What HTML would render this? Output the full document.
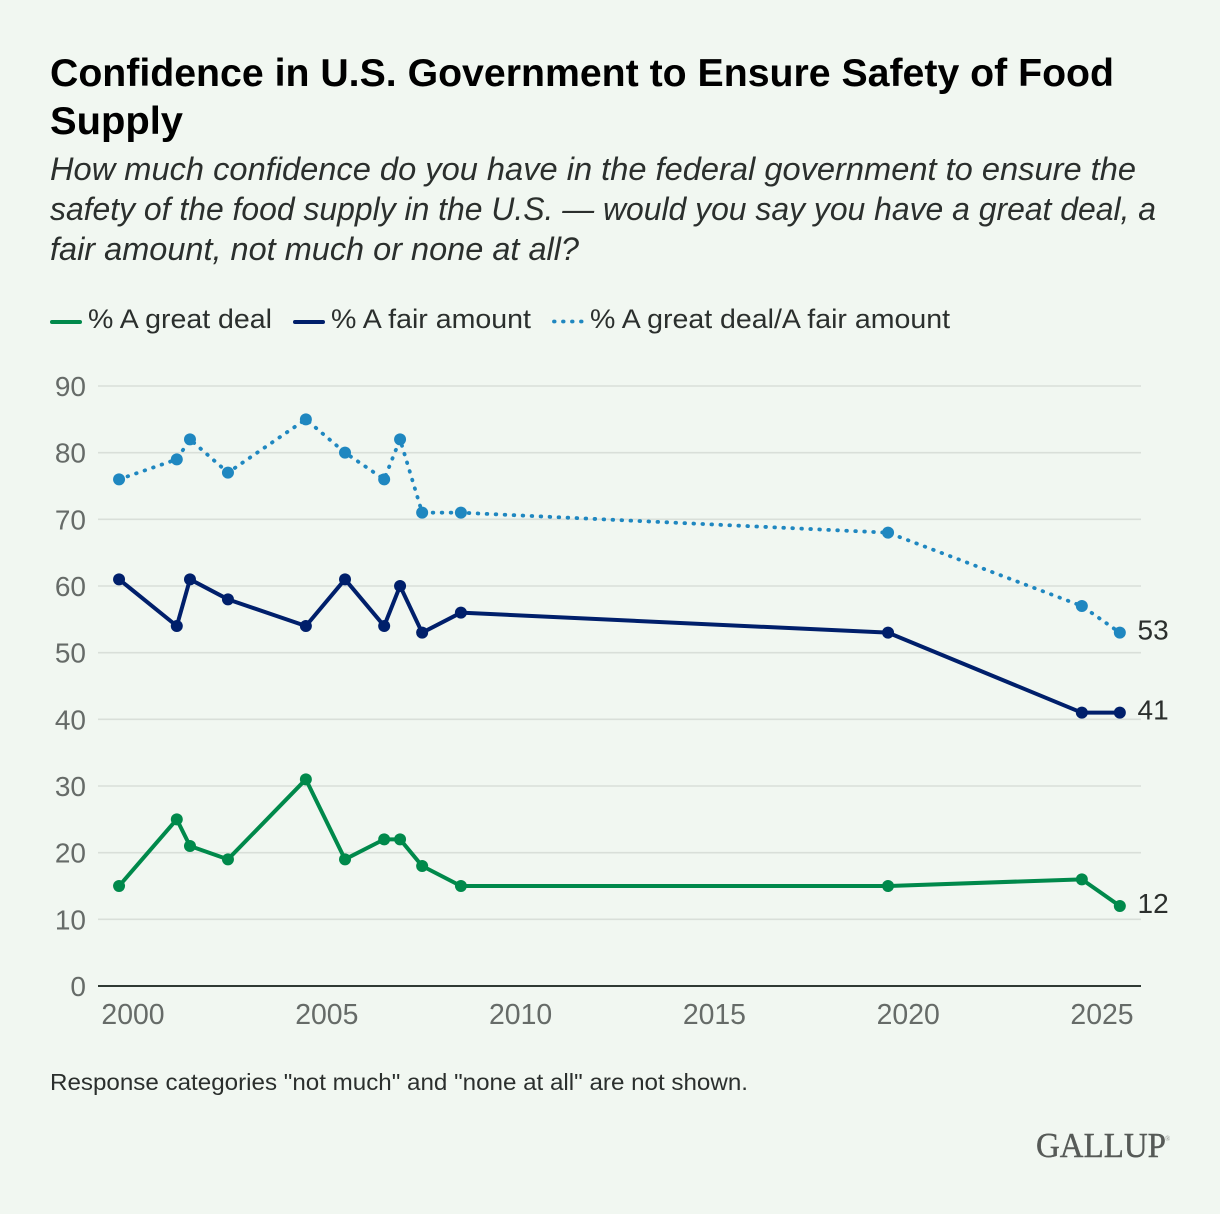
<!DOCTYPE html>
<html lang="en">
<head>
<meta charset="utf-8">
<title>Confidence in U.S. Government to Ensure Safety of Food Supply</title>
<style>
html,body{margin:0;padding:0;background:#f1f7f1;}
svg{display:block;font-family:"Liberation Sans",sans-serif;}
</style>
</head>
<body>
<svg id="chart" width="1220" height="1214" viewBox="0 0 1220 1214" xmlns="http://www.w3.org/2000/svg">
<rect width="1220" height="1214" fill="#f1f7f1"/>
<g font-size="39" font-weight="700" fill="#000">
<text x="50" y="86" textLength="1064" lengthAdjust="spacingAndGlyphs">Confidence in U.S. Government to Ensure Safety of Food</text>
<text x="50" y="134" textLength="133" lengthAdjust="spacingAndGlyphs">Supply</text>
</g>
<g font-size="32" font-style="italic" fill="#2b2f2d">
<text x="50" y="180" textLength="1086" lengthAdjust="spacingAndGlyphs">How much confidence do you have in the federal government to ensure the</text>
<text x="50" y="220" textLength="1106" lengthAdjust="spacingAndGlyphs">safety of the food supply in the U.S. — would you say you have a great deal, a</text>
<text x="50" y="260" textLength="529" lengthAdjust="spacingAndGlyphs">fair amount, not much or none at all?</text>
</g>
<g id="legend" font-size="27" fill="#2b2f2d">
<g>
<line x1="52" y1="322" x2="80" y2="322" stroke="#00894b" stroke-width="4" stroke-linecap="round"/>
<text x="88" y="328" textLength="184" lengthAdjust="spacingAndGlyphs">% A great deal</text>
</g>
<g>
<line x1="295" y1="322" x2="323" y2="322" stroke="#001f6b" stroke-width="4" stroke-linecap="round"/>
<text x="331" y="328" textLength="200" lengthAdjust="spacingAndGlyphs">% A fair amount</text>
</g>
<g>
<line x1="554" y1="321.5" x2="582" y2="321.5" stroke="#1f87c0" stroke-width="3.8" stroke-linecap="round" stroke-dasharray="0.6 8.4"/>
<text x="590" y="328" textLength="360" lengthAdjust="spacingAndGlyphs">% A great deal/A fair amount</text>
</g>
</g>
<g id="grid"></g>
<g id="yaxis" font-size="28" fill="#666b68"></g>
<g id="xaxis" font-size="28.4" fill="#666b68"></g>
<g id="marks"></g>
<text x="50" y="1090" font-size="23" fill="#2b2f2d" textLength="698" lengthAdjust="spacingAndGlyphs">Response categories "not much" and "none at all" are not shown.</text>
<text x="1036" y="1157" font-family="'Liberation Serif',serif" font-size="35" fill="#565a57" stroke="#565a57" stroke-width="0.4" textLength="130" lengthAdjust="spacingAndGlyphs">GALLUP</text>
<text x="1165" y="1141" font-family="'Liberation Serif',serif" font-size="7" fill="#8a8e8b">®</text>
</svg>
<script>
var years = [1999.64, 2001.13, 2001.47, 2002.45, 2004.46, 2005.47, 2006.48, 2006.89, 2007.46, 2008.46, 2019.48, 2024.48, 2025.46];
var greatDeal = [15, 25, 21, 19, 31, 19, 22, 22, 18, 15, 15, 16, 12];
var fairAmount = [61, 54, 61, 58, 54, 61, 54, 60, 53, 56, 53, 41, 41];
var combined = [76, 79, 82, 77, 85, 80, 76, 82, 71, 71, 68, 57, 53];
var yTicks = [0, 10, 20, 30, 40, 50, 60, 70, 80, 90];
var xTicks = [2000, 2005, 2010, 2015, 2020, 2025];

var NS = 'http://www.w3.org/2000/svg';
function xScale(v) { return 133 + (v - 2000) * 38.76; }
function yScale(v) { return 986 - v * (600 / 90); }
function make(parent, tag, attrs, content) {
  var el = document.createElementNS(NS, tag);
  for (var k in attrs) el.setAttribute(k, attrs[k]);
  if (content !== undefined) el.textContent = content;
  parent.appendChild(el);
  return el;
}
var grid = document.getElementById('grid');
var yaxis = document.getElementById('yaxis');
var xaxis = document.getElementById('xaxis');
var marks = document.getElementById('marks');

yTicks.forEach(function (t) {
  var line = make(grid, 'line', {x1: 98, x2: 1141, y1: yScale(t), y2: yScale(t), stroke: t === 0 ? '#2f3a34' : '#d9dfd9', 'stroke-width': t === 0 ? 2 : 1.6});
  
  
  var label = make(yaxis, 'text', {x: 86, y: yScale(t) + 10, 'text-anchor': 'end'}, String(t));
  
  
});
xTicks.forEach(function (t) {
  var label = make(xaxis, 'text', {x: xScale(t), y: 1024, 'text-anchor': 'middle'}, String(t));
  
  
});

function drawSeries(name, values, color, dash) {
  var g = make(marks, 'g', {});
  
  
  var d = values.map(function (v, i) { return (i ? 'L' : 'M') + xScale(years[i]).toFixed(2) + ' ' + yScale(v).toFixed(2); }).join(' ');
  var attrs = {d: d, fill: 'none', stroke: color, 'stroke-width': dash ? 3.8 : 4, 'stroke-linejoin': 'round', 'stroke-linecap': 'round'};
  if (dash) attrs['stroke-dasharray'] = dash;
  var path = make(g, 'path', attrs);
  
  
  values.forEach(function (v, i) {
    var c = make(g, 'circle', {cx: xScale(years[i]), cy: yScale(v), r: 6, fill: color});
    
    
  });
  var last = values.length - 1;
  var end = make(g, 'text', {x: 1137.5, y: yScale(values[last]) + 7, 'font-size': 28, fill: '#2b2f2d'}, String(values[last]));
  
  
}
drawSeries('great-deal', greatDeal, '#00894b');
drawSeries('fair-amount', fairAmount, '#001f6b');
drawSeries('great-deal-fair-amount', combined, '#1f87c0', '0.6 8.4');
</script>
</body>
</html>
